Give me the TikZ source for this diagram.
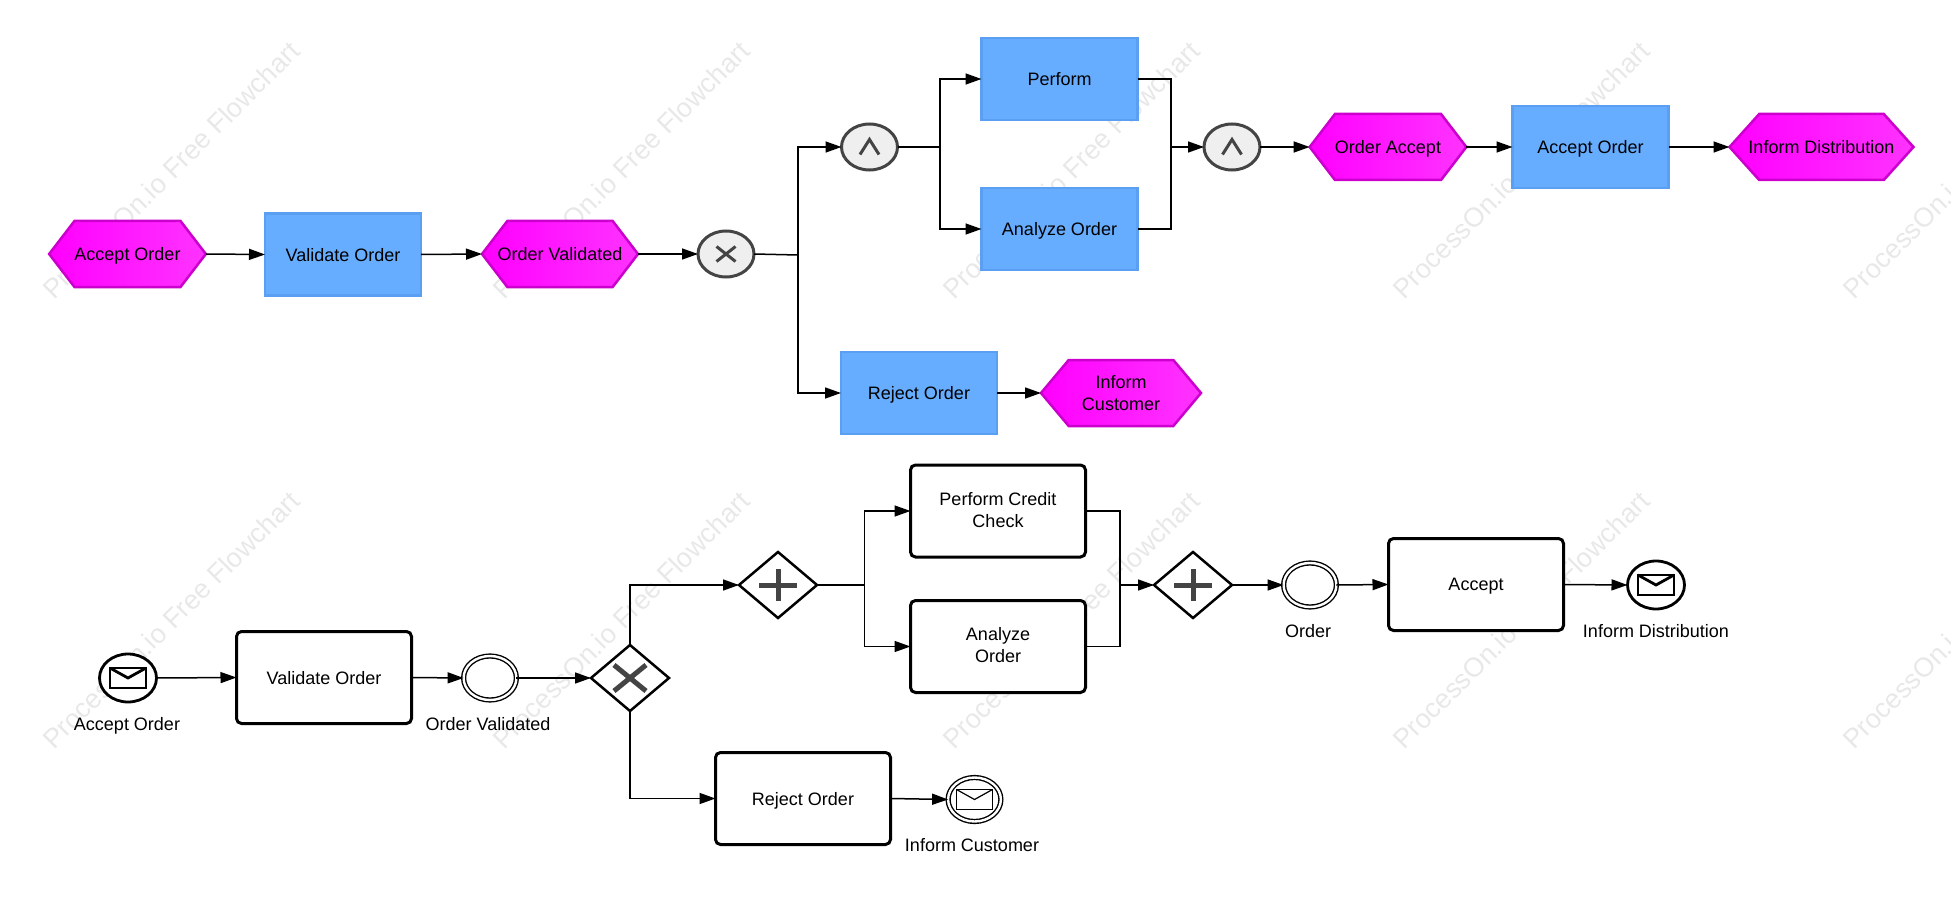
\documentclass[tikz,border=0pt]{standalone}
\usepackage{fontspec}
\setmainfont{Liberation Sans}
\usetikzlibrary{arrows.meta,shapes.geometric,shapes.symbols}

\definecolor{evtline}{HTML}{CC00CC}
\definecolor{evtleft}{HTML}{FF00FF}
\definecolor{evtright}{HTML}{FF33FF}
\definecolor{funcfill}{HTML}{66ADFF}
\definecolor{funcline}{HTML}{5A9FF2}
\definecolor{gatefill}{HTML}{EFEFEF}
\definecolor{gateline}{HTML}{444444}
\definecolor{markcol}{HTML}{E8E8E8}

\tikzset{
    txt/.style={font=\fontsize{9}{11}\selectfont, align=center, text=black, text depth=0pt},
    hexevt/.style={txt, shape=signal, signal to=west and east, signal pointer angle=#1,
        draw=evtline, line width=1.25pt, left color=evtleft, right color=evtright,
        inner sep=0pt, outer sep=0pt, minimum height=33pt, minimum width=78pt},
    hexevt/.default=105,
    func/.style={txt, rectangle, draw=funcline, fill=funcfill, line width=1.25pt,
        inner sep=0pt, outer sep=0pt, minimum width=78pt, minimum height=41pt},
    gate/.style={ellipse, draw=gateline, fill=gatefill, line width=1.5pt,
        inner sep=0pt, outer sep=0pt, minimum width=28pt, minimum height=23pt},
    task/.style={txt, rectangle, rounded corners=2.5pt, draw=black, fill=white, line width=1.5pt,
        inner sep=0pt, outer sep=0pt, minimum width=87.5pt, minimum height=46pt},
    bpmngate/.style={diamond, draw=black, fill=white, line width=1.25pt,
        inner sep=0pt, outer sep=0pt, minimum width=39pt, minimum height=33pt},
    msgevt/.style={ellipse, draw=black, fill=white, line width=1.4pt,
        inner sep=0pt, outer sep=0pt, minimum width=28.5pt, minimum height=24pt},
    ringevt/.style={ellipse, draw=black, double=white, double distance=1.2pt, line width=0.7pt,
        inner sep=0pt, outer sep=0pt, minimum width=26.4pt, minimum height=22pt},
    lbl/.style={txt, inner sep=0pt},
    link/.style={line width=0.75pt, draw=black},
    flow/.style={link, -{Triangle[length=8pt,width=5.5pt]}},
    sym/.style={draw=gateline, line width=1.5pt},
    bigsym/.style={draw=gateline, line width=2.5pt},
    envthick/.style={draw=black, line width=1.4pt},
    envthin/.style={draw=black, line width=0.6pt},
    wmark/.style={font=\fontsize{13.5}{16}\selectfont, text=markcol, rotate=45, inner sep=0pt}
}

\begin{document}
\begin{tikzpicture}[x=0.5pt,y=-0.5pt]

% page size, in pixels of the reference
\useasboundingbox (0,0) rectangle (1951,904);
\clip (0,0) rectangle (1951,904);

% watermark tiles
\foreach \r in {0,1} {
    \foreach \c in {0,1,2,3,4} {
        \node[wmark] (mark\r\c) at (171+\c*450,170+\r*450) {ProcessOn.io Free Flowchart};
    }
}

% upper chain
\node[hexevt] (ev1) at (127.5,254) {Accept Order};
\node[func] (fn1) at (343,254.5) {Validate Order};
\node[hexevt] (ev2) at (560,254) {\makebox[50pt]{Order Validated}};
\node[gate] (xor1) at (726,254) {};
\node[gate] (and1) at (869.5,147) {};
\node[func] (fn2) at (1059.5,79) {Perform};
\node[func] (fn3) at (1059.5,229) {Analyze Order};
\node[gate] (and2) at (1232,147) {};
\node[hexevt] (ev3) at (1388,147) {Order Accept};
\node[func] (fn4) at (1590.5,147) {Accept Order};
\node[hexevt=96,minimum width=92pt] (ev4) at (1821.5,147) {\makebox[60pt]{Inform Distribution}};
\node[func] (fn5) at (919,393) {Reject Order};
\node[hexevt=100,minimum width=80pt] (ev5) at (1121,393) {Inform\\Customer};

\coordinate (split1) at (798,255);
\coordinate (split2) at (940,147);
\coordinate (join1) at (1171,147);

\foreach \a/\b in {ev1/fn1,fn1/ev2,ev2/xor1,and2/ev3,ev3/fn4,fn4/ev4,fn5/ev5}
    \draw[flow] (\a.east) -- (\b.west);

\draw[link] (xor1.east) -- (split1);
\draw[flow] (split1) |- (and1.west);
\draw[flow] (split1) |- (fn5.west);
\draw[link] (and1.east) -- (split2);
\draw[flow] (split2) |- (fn2.west);
\draw[flow] (split2) |- (fn3.west);
\draw[link] (fn2.east) -| (join1);
\draw[link] (fn3.east) -| (join1);
\draw[flow] (join1) -- (and2.west);

% gateway signs, upper chain
\draw[sym] ([shift={(-9.5,7.5)}]xor1.center) -- ([shift={(9.5,-7.5)}]xor1.center);
\draw[sym] ([shift={(-9.5,-7.5)}]xor1.center) -- ([shift={(9.5,7.5)}]xor1.center);
\foreach \g in {and1,and2}
    \draw[sym] ([shift={(-9.5,7.5)}]\g.center) -- ([shift={(0,-7.5)}]\g.center) -- ([shift={(9.5,7.5)}]\g.center);

% lower chain
\node[msgevt] (st1) at (128,678) {};
\node[lbl] (st1txt) at (127,724) {Accept Order};
\node[task] (tk1) at (324,677.5) {Validate Order};
\node[ringevt] (im1) at (490,678) {};
\node[lbl] (im1txt) at (488,724) {Order Validated};
\node[bpmngate] (gw1) at (630,678) {};
\node[bpmngate] (gw2) at (778,585) {};
\node[task,text depth=1.5pt] (tk2) at (998,511) {Perform Credit\\Check};
\node[task,text depth=1.5pt] (tk3) at (998,646.5) {Analyze\\Order};
\node[bpmngate] (gw3) at (1193,585) {};
\node[ringevt] (im2) at (1310,585) {};
\node[lbl] (im2txt) at (1308,630.5) {Order};
\node[task] (tk4) at (1476,584.5) {Accept};
\node[msgevt] (en1) at (1656,585) {};
\node[lbl] (en1txt) at (1656,630.5) {Inform Distribution};
\node[task] (tk5) at (803,798.5) {Reject Order};
\node[ringevt] (en2) at (974.5,799.5) {};
\node[lbl] (en2txt) at (972,845) {Inform Customer};

\coordinate (split3) at (864.5,585);
\coordinate (join2) at (1120,585);

\foreach \a/\b in {st1/tk1,tk1/im1,im1/gw1,gw3/im2,im2/tk4,tk4/en1,tk5/en2}
    \draw[flow] (\a.east) -- (\b.west);

\draw[flow] (gw1.north) |- (gw2.west);
\draw[flow] (gw1.south) |- (tk5.west);
\draw[link] (gw2.east) -- (split3);
\draw[flow] (split3) |- (tk2.west);
\draw[flow] (split3) |- (tk3.west);
\draw[link] (tk2.east) -| (join2);
\draw[link] (tk3.east) -| (join2);
\draw[flow] (join2) -- (gw3.west);

% gateway signs, lower chain
\draw[bigsym] ([shift={(-16,13)}]gw1.center) -- ([shift={(16,-13)}]gw1.center);
\draw[bigsym] ([shift={(-16,-13)}]gw1.center) -- ([shift={(16,13)}]gw1.center);
\foreach \g in {gw2,gw3} {
    \draw[bigsym] ([shift={(-19,0)}]\g.center) -- ([shift={(19,0)}]\g.center);
    \draw[bigsym] ([shift={(0,-16)}]\g.center) -- ([shift={(0,16)}]\g.center);
}

% envelopes
\foreach \e in {st1,en1} {
    \draw[envthick] ([shift={(-18,-10)}]\e.center) rectangle ([shift={(18,10)}]\e.center);
    \draw[envthick] ([shift={(-18,-10)}]\e.center) -- ([shift={(0,0)}]\e.center) -- ([shift={(18,-10)}]\e.center);
}
\draw[envthin] ([shift={(-18,-10)}]en2.center) rectangle ([shift={(18,10)}]en2.center);
\draw[envthin] ([shift={(-18,-10)}]en2.center) -- ([shift={(0,0)}]en2.center) -- ([shift={(18,-10)}]en2.center);

\end{tikzpicture}
\end{document}
